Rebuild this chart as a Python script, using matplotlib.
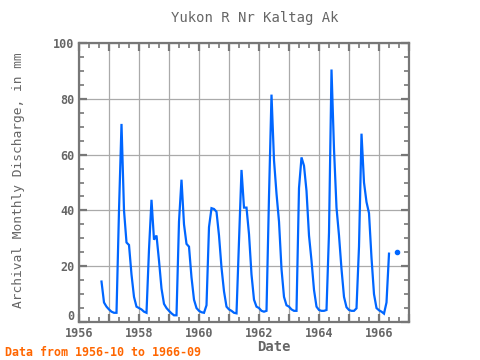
import numpy as np
import matplotlib
matplotlib.use("Agg")
import matplotlib.pyplot as plt
from matplotlib.ticker import MultipleLocator, FuncFormatter

# monthly discharge (mm), water years Oct..Sep, starting 1956-10
wy1957 = [14.5, 7, 5.5, 4.5, 3.7, 3.3, 3.3, 40, 71, 40, 28.5, 27.6]
wy1958 = [17, 9, 5.5, 5, 4.5, 3.7, 3.3, 26, 43.8, 29.5, 31, 22]
wy1959 = [12, 6.5, 5, 4, 3.1, 2.4, 2.4, 36, 51, 35, 28, 27]
wy1960 = [16, 8, 5, 4, 3.5, 3.3, 6, 34, 40.8, 40.5, 39.5, 31]
wy1961 = [19.5, 11, 5.5, 4.5, 4, 3.3, 3.1, 29, 54.5, 41, 41, 31.5]
wy1962 = [17, 8, 5.5, 5, 4, 3.7, 4, 45, 81.5, 58, 46, 36]
wy1963 = [19, 9, 6, 5.5, 4.5, 4, 4, 48, 59, 56, 47, 31]
wy1964 = [22, 11.5, 5.5, 4.3, 4, 4, 4.3, 32, 90.5, 62, 41, 31]
wy1965 = [19, 9, 5.3, 4.3, 4, 4, 4.9, 27, 67.5, 50, 43, 39]
wy1966 = [23, 10, 5, 4.2, 3.7, 3, 7, 24.5, np.nan, np.nan, 25]

values = np.array(wy1957 + wy1958 + wy1959 + wy1960 + wy1961 + wy1962
                  + wy1963 + wy1964 + wy1965 + wy1966, dtype=float)
start_year, start_month = 1956, 10
idx = np.arange(len(values))
dates = start_year + (start_month - 1 + idx) / 12.0

# points with no neighbour on either side get a dot
prev_nan = np.r_[True, np.isnan(values[:-1])]
next_nan = np.r_[np.isnan(values[1:]), True]
lone = ~np.isnan(values) & prev_nan & next_nan

fig = plt.figure(figsize=(4.8, 3.6), dpi=100)
ax = fig.add_axes([79 / 480, 1 - 322 / 360, 330 / 480, 279 / 360])

ax.plot(dates, values, color="#0066FF", lw=1.6, solid_joinstyle="miter")
ax.plot(dates[lone], values[lone], "o", color="#0066FF", ms=3)

ax.set_xlim(1956, 1967)
ax.set_ylim(0, 100)

ax.xaxis.set_major_locator(MultipleLocator(1))
ax.xaxis.set_minor_locator(MultipleLocator(1 / 3))
ax.xaxis.set_major_formatter(
    FuncFormatter(lambda v, p: f"{int(round(v))}" if int(round(v)) % 2 == 0 else ""))
ax.yaxis.set_major_locator(MultipleLocator(20))
ax.yaxis.set_minor_locator(MultipleLocator(5))
# "0" is drawn separately, a little higher, so it clears the year labels
ax.yaxis.set_major_formatter(
    FuncFormatter(lambda v, p: "" if abs(v) < 1e-9 else f"{int(round(v))}"))

ax.grid(True, which="major", color="#AAAAAA", lw=0.9)
ax.set_axisbelow(True)

for s in ax.spines.values():
    s.set_color("#777777")
    s.set_linewidth(1.6)

tick_font = dict(family="DejaVu Sans Mono", weight="bold", size=8.5)
ax.tick_params(which="both", direction="in", top=True, right=True,
               color="#777777", labelcolor="#666666", labelsize=8.5)
ax.tick_params(which="major", length=6, width=1.6)
ax.tick_params(which="minor", length=3.5, width=1.2)
fig.canvas.draw()
for lab in ax.get_xticklabels() + ax.get_yticklabels():
    lab.set_family("DejaVu Sans Mono")
    lab.set_fontweight("bold")

ax.annotate("0", xy=(0, 0), xycoords=("axes fraction", "data"),
            xytext=(-3.5, 4), textcoords="offset points", ha="right",
            va="center", color="#666666", **tick_font)

fig.text(0.53, 0.95, "Yukon R Nr Kaltag Ak", ha="center", va="center",
         family="DejaVu Sans Mono", fontsize=10, color="#666666")
fig.text(0.038, 0.5, "Archival Monthly Discharge, in mm", rotation=90,
         ha="center", va="center", family="DejaVu Sans Mono", fontsize=9.3,
         color="#666666")
fig.text(274 / 480, 1 - 347 / 360, "Date", ha="center", va="center",
         family="DejaVu Sans Mono", fontsize=10, fontweight="bold", color="#666666")
fig.text(5 / 480, 1 - 352 / 360, "Data from 1956-10 to 1966-09", ha="left",
         va="center", family="DejaVu Sans Mono", fontsize=8.4, fontweight="bold",
         color="#FF6600")

fig.savefig("out.png", dpi=100)
